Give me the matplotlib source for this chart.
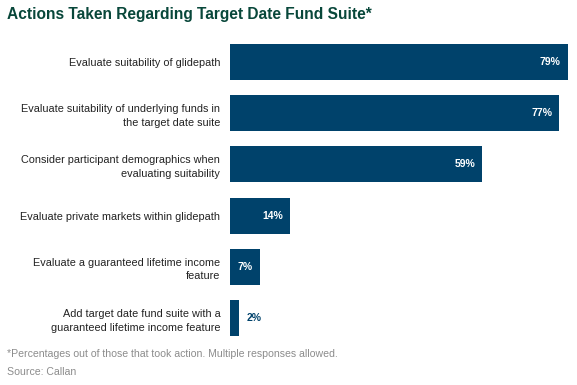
import matplotlib.pyplot as plt

plt.rcParams['font.family'] = ['Liberation Sans', 'DejaVu Sans']

categories = [
    "Evaluate suitability of glidepath",
    "Evaluate suitability of underlying funds in\nthe target date suite",
    "Consider participant demographics when\nevaluating suitability",
    "Evaluate private markets within glidepath",
    "Evaluate a guaranteed lifetime income\nfeature",
    "Add target date fund suite with a\nguaranteed lifetime income feature",
]
values = [79, 77, 59, 14, 7, 2]
value_labels = ["79%", "77%", "59%", "14%", "7%", "2%"]

bar_color = '#00426b'

fig = plt.figure(figsize=(5.77, 3.85), dpi=100)
ax = fig.add_axes([230 / 577, 0.1075, 342 / 577, 0.798])

ypos = list(range(len(values)))
ax.barh(ypos, values, height=0.70, color=bar_color)
ax.set_xlim(0, 80)
ax.set_ylim(len(values) - 0.5, -0.5)

for y, v, lab in zip(ypos, values, value_labels):
    if v >= 5:
        ax.annotate(lab, (v, y), xytext=(-5, 0), textcoords='offset points',
                    ha='right', va='center', color='white', fontsize=7.5, fontweight='bold')
    else:
        ax.annotate(lab, (v, y), xytext=(5.5, 0), textcoords='offset points',
                    ha='left', va='center', color=bar_color, fontsize=7.5, fontweight='bold')

ax.set_yticks(ypos)
ax.set_yticklabels(categories, fontsize=7.8, color='#222222', linespacing=1.45)
ax.tick_params(axis='y', length=0, pad=7)
ax.set_xticks([])
for s in ax.spines.values():
    s.set_visible(False)

fig.text(7 / 577, 1 - 14 / 385, "Actions Taken Regarding Target Date Fund Suite*",
         fontsize=11.2, fontweight='bold', color='#08473a', va='center', ha='left')
fig.text(7 / 577, 1 - 354 / 385,
         "*Percentages out of those that took action. Multiple responses allowed.",
         fontsize=7.6, color='#8c8c8c', va='center', ha='left')
fig.text(7 / 577, 1 - 372 / 385, "Source: Callan",
         fontsize=7.6, color='#8c8c8c', va='center', ha='left')

fig.savefig('out.png', dpi=100)
